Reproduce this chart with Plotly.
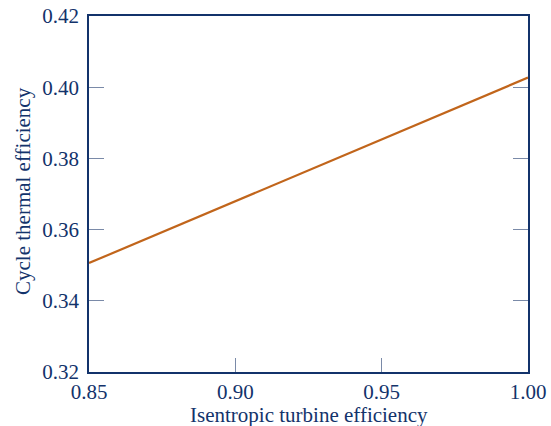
import plotly.graph_objects as go

turbine_eff = [0.85, 0.90, 0.95, 1.00]
cycle_eff = [0.3506, 0.3680, 0.3853, 0.4027]
x_ticks = [0.85, 0.90, 0.95, 1.00]
x_tick_labels = ["0.85", "0.90", "0.95", "1.00"]
y_ticks = [0.32, 0.34, 0.36, 0.38, 0.40, 0.42]
y_tick_labels = ["0.32", "0.34", "0.36", "0.38", "0.40", "0.42"]

navy = "#13336b"
tickc = "#7a8aa8"

fig = go.Figure()
fig.add_trace(go.Scatter(x=turbine_eff, y=cycle_eff, mode="lines",
                         line=dict(color="#c1651b", width=2.2), showlegend=False))

font = dict(family="Liberation Serif, Times New Roman, serif", size=21, color=navy)

fig.update_layout(
    width=551, height=426,
    margin=dict(l=89, r=23, t=16, b=54, autoexpand=False),
    paper_bgcolor="white", plot_bgcolor="white",
    font=font,
)
fig.update_xaxes(range=[0.85, 1.00], tickvals=x_ticks, ticktext=x_tick_labels,
                 showgrid=False, zeroline=False, automargin=False,
                 showline=True, linecolor=navy, linewidth=1.5, mirror=True,
                 ticks="inside", ticklen=14, tickcolor=tickc, tickwidth=1.2,
                 tickfont=font, ticklabeloverflow="allow")
fig.update_yaxes(range=[0.32, 0.42], tickvals=y_ticks, ticktext=y_tick_labels,
                 showgrid=False, zeroline=False, automargin=False,
                 showline=True, linecolor=navy, linewidth=1.5, mirror="ticks",
                 ticks="inside", ticklen=15, tickcolor=tickc, tickwidth=1.2,
                 tickfont=font, ticklabelstandoff=4, ticklabeloverflow="allow")

fig.add_annotation(text="Isentropic turbine efficiency", xref="paper", yref="paper",
                   x=0.5, y=0, xanchor="center", yanchor="middle", yshift=-43,
                   showarrow=False, font=font)
fig.add_annotation(text="Cycle thermal efficiency", xref="paper", yref="paper",
                   x=0, y=0.5, xanchor="center", yanchor="middle", xshift=-66, yshift=3,
                   textangle=-90, showarrow=False, font=font)

fig.write_html("out.html", config={"displayModeBar": False},
               post_script="document.body.style.margin='0';document.body.style.overflow='hidden';")
